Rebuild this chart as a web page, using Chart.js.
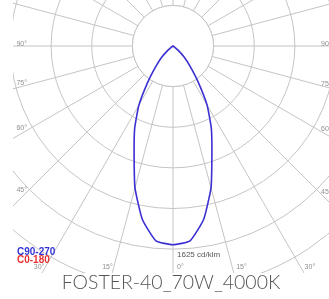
<!DOCTYPE html>
<html>
<head>
<meta charset="utf-8">
<script src="https://cdn.jsdelivr.net/npm/chart.js@4.4.0/dist/chart.umd.min.js"></script>
<style>
  body { margin: 0; background: #fff; width: 329px; height: 299px; overflow: hidden; position: relative; }
  #frame { position: absolute; left: 13px; top: 0; width: 316px; height: 273px; overflow: hidden; }
  #frame canvas { position: absolute; left: -165px; top: -279px; width: 650px; height: 650px; }
  #caption { position: absolute; left: 13px; width: 316px; top: 270px; text-align: center;
             font-family: Lato, sans-serif; font-weight: 300; font-size: 19.5px; line-height: 1.2;
             color: #555; white-space: nowrap; }
</style>
</head>
<body>
<div id="frame"><canvas id="chart" width="650" height="650"></canvas></div>
<div id="caption">FOSTER-40_70W_4000K</div>
<script>
// gamma angles every 5 deg, index 0 = 0 deg (nadir), going round to 355 deg
const gammaLabels = [];
for (let i = 0; i < 72; i++) gammaLabels.push(i * 5);

// intensity in cd/klm (C0-180 is hidden under this curve)
const c90270Values = [
	1590, 1565, 1410, 1175, 910, 725, 545, 350, 215, 130, 55, 15,
	0, 0, 0, 0, 0, 0, 0, 0, 0, 0, 0, 0,
	0, 0, 0, 0, 0, 0, 0, 0, 0, 0, 0, 0,
	0, 0, 0, 0, 0, 0, 0, 0, 0, 0, 0, 0,
	0, 0, 0, 0, 0, 0, 0, 0, 0, 0, 0, 0,
	0, 15, 55, 130, 215, 350, 545, 725, 910, 1175, 1410, 1565
];

const ringStep = 325;
const scaleMax = 2600;
const scaleLabel = '1625 cd/klm';
const sideAngles = [90, 75, 60, 45];
const bottomAngles = [30, 15, 0];
const legendItems = [
	{ text: 'C90-270', color: '#3434d4' },
	{ text: 'C0-180', color: '#e83232' }
];

const gridColor = '#c4c4c4';
const labelColor = '#8f8f8f';

const polarExtras = {
	id: 'polarExtras',
	beforeDatasetsDraw(chart) {
		// the radial lines start at the first ring
		const r = chart.scales.r;
		const ctx = chart.ctx;
		const inner = r.getDistanceFromCenterForValue(ringStep);
		ctx.save();
		ctx.beginPath();
		ctx.arc(r.xCenter, r.yCenter, inner, 0, Math.PI * 2);
		ctx.fillStyle = '#fff';
		ctx.fill();
		ctx.strokeStyle = gridColor;
		ctx.lineWidth = 1;
		ctx.stroke();
		ctx.restore();
	},
	afterDraw(chart) {
		const r = chart.scales.r;
		const ctx = chart.ctx;
		const cx = r.xCenter, cy = r.yCenter;
		const rad = a => a * Math.PI / 180;
		ctx.save();
		ctx.font = '7px "Liberation Sans", Arial, sans-serif';
		ctx.fillStyle = labelColor;
		ctx.textBaseline = 'middle';

		sideAngles.forEach(a => {
			const dy = a === 90 ? 0 : 146 / Math.tan(rad(a));
			ctx.textAlign = 'right';
			ctx.fillText(a + '°', cx - 146, cy + dy - 2);
			const dyr = a === 90 ? 0 : 148 / Math.tan(rad(a));
			ctx.textAlign = 'left';
			ctx.fillText(a + '°', cx + 148, cy + dyr - 2);
		});
		bottomAngles.forEach(a => {
			const dx = 221 * Math.tan(rad(a));
			if (a > 0) {
				ctx.textAlign = 'right';
				ctx.fillText(a + '°', cx - dx - 1, cy + 221);
			}
			ctx.textAlign = 'left';
			ctx.fillText(a + '°', cx + dx + 4, cy + 221);
		});

		const p = r.getPointPositionForValue(0, 1625);
		ctx.font = '8px "Liberation Sans", Arial, sans-serif';
		ctx.fillStyle = '#555';
		ctx.textAlign = 'left';
		ctx.textBaseline = 'top';
		ctx.fillText(scaleLabel, p.x + 4, p.y + 2);

		ctx.font = 'bold 10px "Liberation Sans", Arial, sans-serif';
		ctx.textBaseline = 'middle';
		legendItems.forEach((item, i) => {
			ctx.fillStyle = item.color;
			ctx.fillText(item.text, cx - 156, cy + 206 + i * 8.5);
		});
		ctx.restore();
	}
};

const ctx = document.getElementById('chart').getContext('2d');
new Chart(ctx, {
	type: 'radar',
	data: {
		labels: gammaLabels,
		datasets: [{
			label: 'C90-270',
			data: c90270Values,
			borderColor: '#3b30d2',
			borderWidth: 1.6,
			pointRadius: 0,
			fill: false,
			tension: 0.15,
		}],
	},
	options: {
		responsive: false,
		animation: false,
		layout: { padding: 0 },
		plugins: {
			legend: { display: false },
			tooltip: { enabled: false },
		},
		scales: {
			r: {
				min: 0,
				max: scaleMax,
				startAngle: 180,
				ticks: { display: false, stepSize: ringStep },
				pointLabels: { display: false },
				grid: { circular: true, color: gridColor, lineWidth: 1 },
				angleLines: {
					color: (c) => (c.index % 3 === 0 ? gridColor : 'rgba(0,0,0,0)'),
					lineWidth: 1,
				},
			},
		},
	},
	plugins: [polarExtras],
});
</script>
</body>
</html>
